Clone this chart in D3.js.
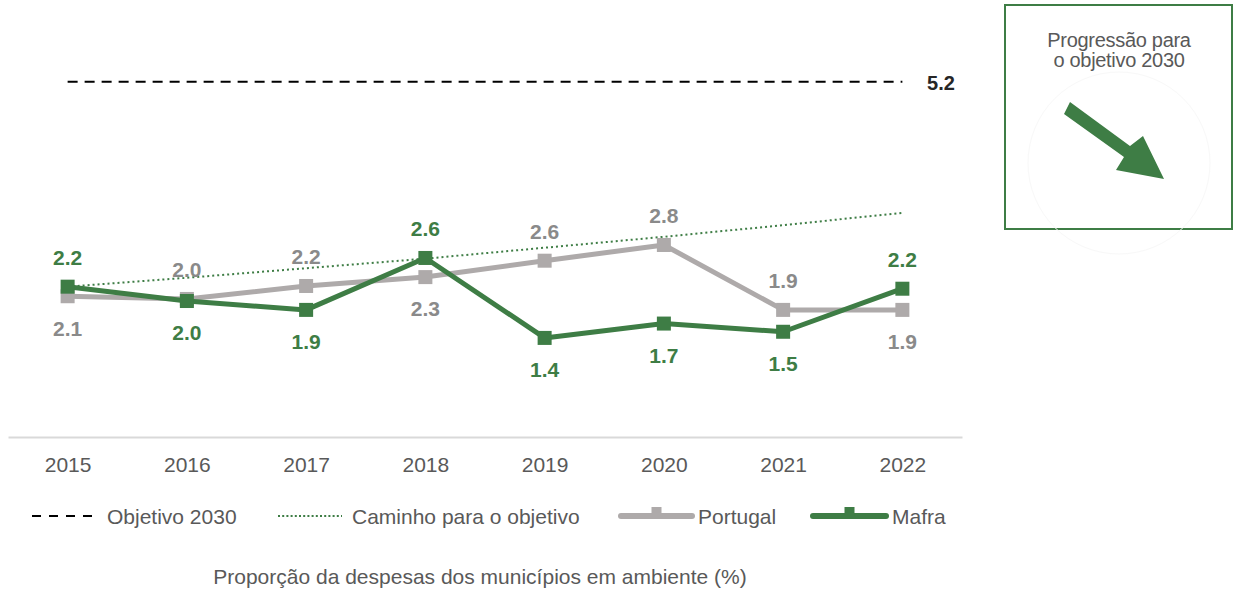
<!DOCTYPE html>
<html><head><meta charset="utf-8">
<script src="https://cdn.jsdelivr.net/npm/d3@7"></script>
<style>body{margin:0;background:#fff;} svg{display:block;font-family:"Liberation Sans",Arial,sans-serif;}</style>
</head><body><svg id="c" width="1238" height="591"></svg>
<script>
const years = ["2015","2016","2017","2018","2019","2020","2021","2022"];
const portugal = [2.06, 2.02, 2.21, 2.34, 2.58, 2.81, 1.86, 1.86];
const mafra = [2.20, 1.99, 1.86, 2.62, 1.45, 1.66, 1.54, 2.17];
const caminho = [2.20, 2.33, 2.47, 2.61, 2.77, 2.93, 3.10, 3.28];
const objetivo = 5.2;
const portugalLabelPos = ["below","above","above","below","above","above","above","below"];
const mafraLabelPos = ["above","below","below","above","below","below","below","above"];
const legendItems = ["Objetivo 2030","Caminho para o objetivo","Portugal","Mafra"];
const boxTitle = ["Progressão para","o objetivo 2030"];
const axisTitle = "Proporção da despesas dos municípios em ambiente (%)";

const GREEN = "#3E7D45", GREY = "#AEAAAA", GREYTXT = "#8A8A8A", TXT = "#595959";
const svg = d3.select("#c");
const x = d3.scalePoint().domain(years).range([8, 962]).padding(0.5);
const y = d3.scaleLinear().domain([0, 6]).range([437, 27]);

// axis
const ax = svg.append("g").attr("transform","translate(0,437)")
  .call(d3.axisBottom(x).tickSize(0).tickPadding(20));
ax.select(".domain").attr("stroke","#D9D9D9").attr("stroke-width",2);
ax.selectAll("text").attr("font-size",21).attr("fill",TXT)
  .attr("font-family","'Liberation Sans',Arial,sans-serif");

// objective line
svg.append("line").attr("x1",x(years[0])).attr("x2",x(years[years.length-1]))
  .attr("y1",y(objetivo)).attr("y2",y(objetivo))
  .attr("stroke","#000").attr("stroke-width",2).attr("stroke-dasharray","10,7");
svg.append("text").attr("x",941).attr("y",y(objetivo)+1).attr("dy","0.35em")
  .attr("text-anchor","middle").attr("font-size",20).attr("font-weight","bold")
  .attr("fill","#262626").text(objetivo.toFixed(1));

const line = d3.line().x((d,i)=>x(years[i])).y(d=>y(d));
svg.append("path").datum(caminho).attr("d",line).attr("fill","none")
  .attr("stroke",GREEN).attr("stroke-width",2).attr("stroke-dasharray","2,3");

function series(vals,color,pos,lblColor){
  svg.append("path").datum(vals).attr("d",line).attr("fill","none")
    .attr("stroke",color).attr("stroke-width",5).attr("stroke-linejoin","round");
  svg.selectAll(null).data(vals).enter().append("rect")
    .attr("x",(d,i)=>x(years[i])-7).attr("y",d=>y(d)-7)
    .attr("width",14).attr("height",14).attr("fill",color);
  svg.selectAll(null).data(vals).enter().append("text")
    .attr("x",(d,i)=>x(years[i]))
    .attr("y",(d,i)=>y(d)+(pos[i]==="above"?-29:32))
    .attr("dy","0.35em").attr("text-anchor","middle")
    .attr("font-size",21).attr("font-weight","bold").attr("fill",lblColor)
    .text(d=>d.toFixed(1));
}
series(portugal,GREY,portugalLabelPos,GREYTXT);
series(mafra,GREEN,mafraLabelPos,GREEN);

// legend
const ly = 516;
const lg = svg.append("g");
lg.append("line").attr("x1",32).attr("x2",100).attr("y1",ly).attr("y2",ly)
  .attr("stroke","#000").attr("stroke-width",2).attr("stroke-dasharray","9,8");
lg.append("line").attr("x1",278).attr("x2",342).attr("y1",ly).attr("y2",ly)
  .attr("stroke",GREEN).attr("stroke-width",2).attr("stroke-dasharray","2,2.2");
[[621,692,GREY],[813,886,GREEN]].forEach(([a,b,c])=>{
  lg.append("line").attr("x1",a).attr("x2",b).attr("y1",ly).attr("y2",ly)
    .attr("stroke",c).attr("stroke-width",6).attr("stroke-linecap","round");
  lg.append("rect").attr("x",(a+b)/2-5).attr("y",ly-9).attr("width",10).attr("height",9).attr("fill",c);
});
const lx = [107,352,698,892];
legendItems.forEach((t,i)=>{
  lg.append("text").attr("x",lx[i]).attr("y",ly+1).attr("dy","0.35em")
    .attr("font-size",21).attr("fill",TXT).text(t);
});

svg.append("text").attr("x",480).attr("y",584).attr("text-anchor","middle")
  .attr("font-size",21).attr("fill",TXT).text(axisTitle);

// right box
const bx = svg.append("g");
bx.append("rect").attr("x",1005).attr("y",5).attr("width",227).attr("height",224)
  .attr("fill","#fff").attr("stroke",GREEN).attr("stroke-width",2);
bx.append("circle").attr("cx",1119).attr("cy",163).attr("r",91)
  .attr("fill","none").attr("stroke","#f8f8f8").attr("stroke-width",1);
boxTitle.forEach((t,i)=>{
  bx.append("text").attr("x",1119).attr("y",47+i*20).attr("text-anchor","middle")
    .attr("font-size",20).attr("fill",TXT).attr("letter-spacing","-0.3").text(t);
});
bx.append("path")
  .attr("d","M1070,102 L1130,146 L1143,136 L1164,179 L1116,170 L1124,157 L1064,114 Z")
  .attr("fill",GREEN);
</script></body></html>
